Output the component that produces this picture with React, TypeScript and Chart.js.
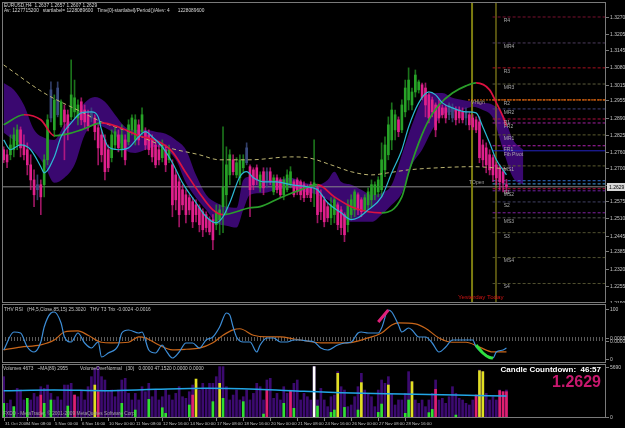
import React, { useEffect, useRef } from 'react';
import { Chart, registerables } from 'chart.js';

Chart.register(...registerables);

const FONT = '"Liberation Sans", Arial, sans-serif';
const X_MIN = -0.5;
const X_MAX = 178.5;
const MAIN_MIN = 1.21905;
const MAIN_MAX = 1.33266;

// ---- candles (EURUSD H4), bar index 0..149 ----
const openP = [
  1.2769, 1.2750, 1.2750, 1.2769, 1.2787, 1.2844, 1.2787, 1.2769, 1.2712, 1.2655,
  1.2637, 1.2637, 1.2637, 1.2731, 1.2889, 1.2844, 1.2901, 1.2863, 1.2919, 1.2901,
  1.2893, 1.2912, 1.2889, 1.2950, 1.2919, 1.2901, 1.2912, 1.2889, 1.2852, 1.2825,
  1.2806, 1.2769, 1.2739, 1.2787, 1.2825, 1.2769, 1.2806, 1.2799, 1.2844, 1.2806,
  1.2863, 1.2837, 1.2837, 1.2825, 1.2806, 1.2787, 1.2769, 1.2739, 1.2769, 1.2731,
  1.2712, 1.2674, 1.2648, 1.2618, 1.2599, 1.2588, 1.2573, 1.2561, 1.2550, 1.2535,
  1.2524, 1.2505, 1.2505, 1.2486, 1.2505, 1.2554, 1.2599, 1.2674, 1.2731, 1.2674,
  1.2663, 1.2701, 1.2720, 1.2705, 1.2693, 1.2701, 1.2625, 1.2686, 1.2686, 1.2686,
  1.2610, 1.2663, 1.2655, 1.2599, 1.2618, 1.2637, 1.2648, 1.2655, 1.2648, 1.2637,
  1.2625, 1.2637, 1.2637, 1.2625, 1.2599, 1.2580, 1.2554, 1.2512, 1.2524, 1.2561,
  1.2542, 1.2524, 1.2486, 1.2524, 1.2542, 1.2599, 1.2580, 1.2542, 1.2561, 1.2580,
  1.2599, 1.2610, 1.2618, 1.2693, 1.2750, 1.2806, 1.2844, 1.2882, 1.2844, 1.2912,
  1.2957, 1.2938, 1.2987, 1.2995, 1.3014, 1.3002, 1.2976, 1.2957, 1.2938, 1.2938,
  1.2927, 1.2927, 1.2901, 1.2889, 1.2919, 1.2919, 1.2912, 1.2889, 1.2901, 1.2889,
  1.2882, 1.2874, 1.2787, 1.2776, 1.2750, 1.2739, 1.2712, 1.2701, 1.2686, 1.2637,
];
const highP = [
  1.2780, 1.2769, 1.2825, 1.2852, 1.2863, 1.2855, 1.2825, 1.2795, 1.2750, 1.2693,
  1.2674, 1.2655, 1.2750, 1.2901, 1.3025, 1.2976, 1.3025, 1.2957, 1.2938, 1.2919,
  1.3108, 1.3032, 1.2957, 1.2965, 1.2938, 1.2919, 1.2927, 1.2901, 1.2863, 1.2844,
  1.2825, 1.2787, 1.2844, 1.2852, 1.2844, 1.2863, 1.2825, 1.2882, 1.2901, 1.2901,
  1.2882, 1.2927, 1.2852, 1.2844, 1.2825, 1.2806, 1.2787, 1.2806, 1.2787, 1.2787,
  1.2731, 1.2693, 1.2667, 1.2637, 1.2618, 1.2599, 1.2588, 1.2580, 1.2561, 1.2546,
  1.2535, 1.2516, 1.2524, 1.2561, 1.2561, 1.2855, 1.2780, 1.2769, 1.2750, 1.2739,
  1.2750, 1.2750, 1.2795, 1.2712, 1.2701, 1.2712, 1.2686, 1.2701, 1.2701, 1.2701,
  1.2674, 1.2674, 1.2663, 1.2667, 1.2693, 1.2705, 1.2655, 1.2663, 1.2655, 1.2648,
  1.2637, 1.2648, 1.2806, 1.2637, 1.2618, 1.2591, 1.2569, 1.2588, 1.2591, 1.2569,
  1.2554, 1.2531, 1.2580, 1.2599, 1.2618, 1.2606, 1.2588, 1.2599, 1.2625, 1.2655,
  1.2648, 1.2667, 1.2795, 1.2818, 1.2893, 1.2946, 1.2919, 1.2893, 1.2957, 1.3032,
  1.3078, 1.3002, 1.3070, 1.3032, 1.3021, 1.3021, 1.2983, 1.2968, 1.2946, 1.2957,
  1.2938, 1.2938, 1.2946, 1.2942, 1.2931, 1.2931, 1.2927, 1.2927, 1.2912, 1.2901,
  1.2893, 1.2893, 1.2806, 1.2795, 1.2769, 1.2750, 1.2723, 1.2712, 1.2701, 1.2657,
];
const lowP = [
  1.2720, 1.2701, 1.2731, 1.2742, 1.2769, 1.2742, 1.2731, 1.2674, 1.2618, 1.2554,
  1.2580, 1.2524, 1.2591, 1.2712, 1.2874, 1.2818, 1.2893, 1.2855, 1.2731, 1.2806,
  1.2882, 1.2889, 1.2863, 1.2863, 1.2852, 1.2840, 1.2874, 1.2806, 1.2712, 1.2723,
  1.2655, 1.2686, 1.2723, 1.2769, 1.2761, 1.2742, 1.2712, 1.2787, 1.2825, 1.2787,
  1.2787, 1.2825, 1.2769, 1.2750, 1.2723, 1.2701, 1.2712, 1.2723, 1.2686, 1.2720,
  1.2516, 1.2542, 1.2478, 1.2542, 1.2493, 1.2524, 1.2475, 1.2497, 1.2459, 1.2441,
  1.2459, 1.2448, 1.2392, 1.2467, 1.2448, 1.2456, 1.2524, 1.2637, 1.2674, 1.2663,
  1.2637, 1.2686, 1.2712, 1.2516, 1.2618, 1.2637, 1.2610, 1.2599, 1.2625, 1.2637,
  1.2599, 1.2606, 1.2588, 1.2580, 1.2610, 1.2625, 1.2591, 1.2599, 1.2580, 1.2573,
  1.2588, 1.2573, 1.2554, 1.2493, 1.2505, 1.2478, 1.2497, 1.2486, 1.2493, 1.2467,
  1.2448, 1.2422, 1.2459, 1.2505, 1.2516, 1.2524, 1.2516, 1.2531, 1.2542, 1.2554,
  1.2580, 1.2591, 1.2591, 1.2667, 1.2731, 1.2769, 1.2806, 1.2818, 1.2833, 1.2893,
  1.2919, 1.2919, 1.2968, 1.2983, 1.2957, 1.2893, 1.2870, 1.2893, 1.2818, 1.2870,
  1.2889, 1.2870, 1.2882, 1.2874, 1.2863, 1.2870, 1.2870, 1.2863, 1.2844, 1.2844,
  1.2833, 1.2720, 1.2705, 1.2682, 1.2674, 1.2648, 1.2637, 1.2618, 1.2610, 1.2607,
];
const closeP = [
  1.2731, 1.2723, 1.2787, 1.2825, 1.2844, 1.2776, 1.2750, 1.2712, 1.2655, 1.2599,
  1.2618, 1.2591, 1.2731, 1.2882, 1.2995, 1.2957, 1.3002, 1.2950, 1.2874, 1.2852,
  1.2976, 1.2965, 1.2938, 1.2882, 1.2874, 1.2859, 1.2889, 1.2837, 1.2776, 1.2750,
  1.2686, 1.2701, 1.2825, 1.2837, 1.2776, 1.2825, 1.2731, 1.2863, 1.2889, 1.2882,
  1.2806, 1.2901, 1.2787, 1.2769, 1.2742, 1.2712, 1.2731, 1.2787, 1.2712, 1.2769,
  1.2561, 1.2580, 1.2524, 1.2561, 1.2524, 1.2542, 1.2497, 1.2524, 1.2486, 1.2467,
  1.2475, 1.2459, 1.2429, 1.2535, 1.2542, 1.2629, 1.2712, 1.2750, 1.2686, 1.2720,
  1.2731, 1.2731, 1.2776, 1.2618, 1.2637, 1.2655, 1.2674, 1.2625, 1.2648, 1.2648,
  1.2663, 1.2618, 1.2599, 1.2655, 1.2674, 1.2686, 1.2599, 1.2610, 1.2599, 1.2588,
  1.2599, 1.2588, 1.2644, 1.2524, 1.2535, 1.2497, 1.2512, 1.2561, 1.2580, 1.2486,
  1.2475, 1.2448, 1.2561, 1.2580, 1.2610, 1.2542, 1.2535, 1.2588, 1.2610, 1.2637,
  1.2637, 1.2655, 1.2731, 1.2787, 1.2863, 1.2919, 1.2901, 1.2837, 1.2938, 1.3002,
  1.3032, 1.2987, 1.3051, 1.3025, 1.2965, 1.2938, 1.2889, 1.2912, 1.2844, 1.2889,
  1.2901, 1.2889, 1.2938, 1.2927, 1.2882, 1.2889, 1.2882, 1.2912, 1.2863, 1.2855,
  1.2844, 1.2739, 1.2731, 1.2712, 1.2693, 1.2674, 1.2663, 1.2648, 1.2644, 1.2629,
];
const neutralBars = [10, 14, 16, 26, 72, 78, 132, 133, 137];

// ---- moving averages / band (bar index, price) ----
const fastMaIdx = [0, 2, 5, 8, 11, 12, 15, 17, 20, 23, 26, 28, 29, 31, 34, 37, 40, 42, 44, 47, 50, 53, 57, 60, 63, 65, 67, 70, 72, 74, 77, 81, 85, 90, 93, 96, 100, 103, 105, 108, 112, 115, 118, 120, 123, 126, 128, 130, 133, 137, 140, 142, 144, 146, 148, 149];
const fastMaVal = [1.2806, 1.2769, 1.2787, 1.2769, 1.2705, 1.2682, 1.2742, 1.2818, 1.2870, 1.2908, 1.2912, 1.2893, 1.2844, 1.2780, 1.2769, 1.2776, 1.2818, 1.2837, 1.2818, 1.2780, 1.2720, 1.2644, 1.2569, 1.2516, 1.2493, 1.2516, 1.2569, 1.2667, 1.2686, 1.2663, 1.2648, 1.2648, 1.2637, 1.2629, 1.2618, 1.2569, 1.2531, 1.2505, 1.2512, 1.2542, 1.2591, 1.2682, 1.2769, 1.2855, 1.2946, 1.2987, 1.2976, 1.2946, 1.2927, 1.2912, 1.2908, 1.2855, 1.2795, 1.2731, 1.2693, 1.2674];
const trendMaIdx = [0, 6, 11, 15, 19, 23, 29, 34, 40, 46, 50, 54, 58, 62, 65, 73, 76, 82, 88, 93, 98, 103, 108, 112, 118, 120, 123, 126, 129, 133, 137, 140, 144, 146, 148, 149];
const trendMaVal = [1.2863, 1.2901, 1.2882, 1.2822, 1.2829, 1.2844, 1.2870, 1.2855, 1.2822, 1.2799, 1.2761, 1.2682, 1.2606, 1.2542, 1.2524, 1.2550, 1.2554, 1.2588, 1.2618, 1.2637, 1.2591, 1.2554, 1.2535, 1.2531, 1.2591, 1.2682, 1.2795, 1.2882, 1.2938, 1.2983, 1.3010, 1.3021, 1.2995, 1.2946, 1.2893, 1.2859];
const slowMaIdx = [0, 12, 23, 29, 38, 48, 58, 64, 73, 85, 90, 97, 103, 109, 114, 120, 129, 139, 149];
const slowMaVal = [1.3089, 1.2983, 1.2912, 1.2874, 1.2833, 1.2780, 1.2750, 1.2731, 1.2731, 1.2742, 1.2739, 1.2712, 1.2686, 1.2674, 1.2682, 1.2693, 1.2701, 1.2705, 1.2697];
const bandIdx = [0, 3, 6, 9, 12, 15, 18, 21, 24, 27, 30, 33, 36, 39, 42, 45, 48, 51, 54, 57, 60, 63, 66, 69, 71, 73, 77, 81, 85, 89, 93, 96, 98, 100, 103, 106, 109, 112, 115, 118, 121, 124, 127, 130, 133, 136, 139, 142, 145, 148, 151, 154];
const bandUpper = [1.3021, 1.2995, 1.2938, 1.2844, 1.2814, 1.2806, 1.2863, 1.2889, 1.2946, 1.2968, 1.2950, 1.2901, 1.2855, 1.2844, 1.2844, 1.2837, 1.2829, 1.2806, 1.2769, 1.2674, 1.2599, 1.2569, 1.2554, 1.2550, 1.2655, 1.2667, 1.2655, 1.2655, 1.2663, 1.2644, 1.2637, 1.2655, 1.2686, 1.2648, 1.2637, 1.2618, 1.2599, 1.2606, 1.2637, 1.2750, 1.2863, 1.2957, 1.2983, 1.2983, 1.2965, 1.2957, 1.2950, 1.2946, 1.2938, 1.2901, 1.2806, 1.2769];
const bandLower = [1.2833, 1.2806, 1.2787, 1.2761, 1.2712, 1.2644, 1.2663, 1.2712, 1.2825, 1.2863, 1.2852, 1.2825, 1.2769, 1.2757, 1.2769, 1.2780, 1.2769, 1.2731, 1.2644, 1.2588, 1.2542, 1.2493, 1.2482, 1.2475, 1.2542, 1.2599, 1.2606, 1.2618, 1.2625, 1.2610, 1.2599, 1.2580, 1.2561, 1.2524, 1.2497, 1.2497, 1.2497, 1.2524, 1.2561, 1.2606, 1.2712, 1.2769, 1.2844, 1.2901, 1.2912, 1.2919, 1.2931, 1.2919, 1.2889, 1.2769, 1.2663, 1.2637];

// ---- pivot levels ----
const pivotNames = ['R4', 'MR4', 'R3', 'MR3', 'R2', 'MR2', 'R1', 'FR2', 'MR1', 'FR1', 'Fib Pivot', 'MS1', '', '', 'S1', 'MS2', 'S2', '', 'MS3', 'S3', 'MS4', 'S4'];
const pivotPrices = [1.3270, 1.3172, 1.3078, 1.3017, 1.2957, 1.2923, 1.2885, 1.2870, 1.2825, 1.2784, 1.2765, 1.2708, 1.2652, 1.2640, 1.2622, 1.2614, 1.2572, 1.2531, 1.2512, 1.2456, 1.2362, 1.2264];
const pivotColors = ['#7a1030', '#4c3c5c', '#a81020', '#5c5c3c', '#e06010', '#40407a', '#b01040', '#a020a0', '#5c5c30', '#b020b0', '#2424c0', '#5c5c30', '#3070d0', '#40a0e0', '#b01040', '#7020a0', '#404064', '#8020a0', '#505050', '#505030', '#505030', '#505030'];
const yesterdayHigh = 1.2957;
const lastPrice = 1.2629;
const yesterdayBar = 138.8;
const todayBar = 145.9;
const priceTicks = [1.3270, 1.3205, 1.3145, 1.3080, 1.3015, 1.2955, 1.2890, 1.2825, 1.2760, 1.2700, 1.2635, 1.2575, 1.2510, 1.2445, 1.2385, 1.2320, 1.2255, 1.2190];

// ---- THV RSI / T3 Trix ----
const rsiIdx = [0, 3, 5, 7, 9, 11, 12, 14, 15, 17, 18, 20, 22, 24, 26, 28, 29, 31, 34, 35, 37, 40, 41, 43, 45, 47, 48, 50, 52, 54, 56, 58, 60, 62, 64, 66, 67, 68, 69, 71, 73, 75, 76, 78, 80, 82, 84, 86, 88, 90, 92, 94, 96, 99, 101, 103, 105, 106, 108, 111, 112, 114, 115, 117, 118, 120, 121, 123, 125, 127, 129, 131, 133, 135, 137, 139, 140, 142, 145, 146, 148, 149];
const rsiVal = [18, 54, 52, 24, 14, 34, 64, 92, 94, 72, 44, 34, 52, 32, 22, 34, 4, 12, 28, 52, 58, 52, 54, 18, 12, 28, 18, 2, 14, 32, 32, 22, 38, 44, 64, 92, 88, 64, 44, 34, 34, 14, 28, 42, 42, 34, 34, 38, 38, 36, 34, 22, 18, 28, 32, 34, 52, 54, 52, 52, 62, 98, 94, 68, 54, 62, 58, 44, 44, 32, 14, 24, 38, 38, 38, 38, 24, 12, 2, 14, 18, 22];
const rsiHighIdx = [111, 113, 114];
const rsiHighVal = [74, 90, 98];
const rsiLowIdx = [140, 142, 144, 145];
const rsiLowVal = [28, 12, 3, 2];
const rsiLevels = [42, 38];
const trixIdx = [0, 5, 11, 15, 18, 22, 25, 29, 32, 37, 40, 42, 46, 50, 54, 58, 62, 65, 68, 70, 74, 78, 82, 86, 90, 94, 102, 108, 112, 115, 117, 122, 125, 129, 133, 137, 141, 145, 149];
const trixVal = [-0.0020, -0.0015, -0.0011, -0.0002, 0.0013, 0.0015, 0.0007, -0.0006, -0.0007, -0.0006, 0.0004, 0.0002, -0.0011, -0.0020, -0.0019, -0.0017, -0.0007, 0.0007, 0.0017, 0.0019, 0.0007, 0.0004, 0.0004, 0.0000, -0.0004, -0.0007, -0.0007, 0.0002, 0.0011, 0.0026, 0.0030, 0.0028, 0.0020, 0.0002, -0.0006, -0.0006, -0.0015, -0.0024, -0.0024];

// ---- volumes ----
const volumes = [
  4550, 1520, 1900, 1140, 3220, 3030, 1900, 1520, 1900, 2650,
  2270, 3410, 3220, 3600, 2650, 1900, 2270, 1900, 3600, 3600,
  3790, 2460, 2270, 3030, 1900, 3410, 4550, 5500, 5690, 4550,
  4170, 2840, 3030, 2270, 3030, 4170, 4360, 2650, 1900, 2650,
  1900, 3410, 2840, 3790, 2270, 3030, 1900, 2270, 3030, 2460,
  1900, 2650, 3410, 2270, 2090, 2840, 3600, 3790, 3030, 3790,
  3220, 3790, 3790, 4550, 5690, 5690, 3410, 1900, 2460, 3030,
  1900, 2270, 3030, 1900, 2650, 3790, 3410, 1900, 4170, 4360,
  2090, 2650, 1900, 3410, 2650, 3030, 3790, 4170, 1900, 2650,
  2270, 1900, 5690, 1900, 3220, 1900, 1140, 2270, 2460, 5120,
  3410, 3030, 1140, 1330, 2270, 3410, 4930, 3030, 2650, 2270,
  1140, 3030, 4170, 3790, 4550, 2650, 1330, 1900, 1900, 2650,
  5120, 3980, 1900, 1520, 1900, 1140, 1900, 2650, 4170, 1900,
  2090, 1520, 2270, 3410, 2650, 2090, 1900, 1520, 1330, 1900,
  2460, 5310, 5120, 2650, 1900, 2270, 1900, 3030, 2840, 3030,
];
const greenVolIdx = [0, 3, 7, 12, 14, 19, 35, 39, 43, 47, 48, 55, 62, 65, 71, 77, 83, 86, 93, 97, 98, 101, 105, 111, 112, 119, 120, 126, 127, 134];
const greenVolVal = [1520, 1140, 2090, 1520, 1900, 1210, 1520, 760, 1970, 1020, 380, 1330, 1710, 2090, 1710, 300, 1520, 950, 1210, 490, 760, 1060, 760, 490, 1440, 380, 1900, 460, 830, 190];
const pinkVolIdx = [11, 21, 28, 56, 78, 85, 128, 140, 147, 148, 149];
const pinkVolVal = [2460, 2460, 2840, 2460, 3030, 2960, 3110, 2460, 2960, 2840, 2840];
const yellowVolIdx = [27, 57, 64, 99, 106, 114, 121, 141, 142];
const yellowVolVal = [3600, 4280, 3790, 4930, 3870, 3600, 3980, 5230, 5120];
const whiteVolIdx = [92];
const whiteVolVal = [5690];
const volMaIdx = [0, 15, 30, 45, 60, 75, 89, 100, 118, 134, 149];
const volMaVal = [2960, 3030, 2960, 3110, 3220, 3110, 2880, 2730, 2580, 2460, 2350];

// ---- time axis ----
const timeTickBars = [0, 7, 15, 23, 31, 39, 47, 55, 63, 71, 79, 87, 95, 103, 111, 119];
const timeLabels = ['31 Oct 2008', '4 Nov 08:00', '5 Nov 00:00', '6 Nov 16:00', '10 Nov 00:00', '11 Nov 08:00', '12 Nov 16:00', '14 Nov 00:00', '17 Nov 08:00', '18 Nov 16:00', '20 Nov 00:00', '21 Nov 08:00', '24 Nov 16:00', '26 Nov 00:00', '27 Nov 08:00', '28 Nov 16:00'];

const FRAME = '#7a7a7a';
const TEXT = '#c4c4c4';

const pts = (idx: number[], val: number[]) => idx.map((x, k) => ({ x, y: val[k] }));
const hLine = (y: number, x0 = X_MIN, x1 = X_MAX) => [{ x: x0, y }, { x: x1, y }];
const lineDs = (data: any[], color: string, width: number, extra: any = {}) => ({
  type: 'line', data, borderColor: color, borderWidth: width, pointRadius: 0, fill: false, ...extra,
});

function drawFrame(ctx: CanvasRenderingContext2D, a: any) {
  ctx.strokeStyle = FRAME;
  ctx.lineWidth = 1;
  ctx.strokeRect(a.left + 0.5, a.top + 0.5, a.right - a.left - 1, a.bottom - a.top - 1);
}

function text(ctx: CanvasRenderingContext2D, s: string, x: number, y: number, size: number, color: string, align: CanvasTextAlign = 'left', bold = false) {
  ctx.font = `${bold ? 'bold ' : ''}${size}px ${FONT}`;
  ctx.fillStyle = color;
  ctx.textAlign = align;
  ctx.textBaseline = 'middle';
  ctx.fillText(s, x, y);
}

function axisLabel(ctx: CanvasRenderingContext2D, a: any, py: number, s: string) {
  const y = Math.round(py) + 0.5;
  ctx.strokeStyle = FRAME;
  ctx.beginPath();
  ctx.moveTo(a.right, y);
  ctx.lineTo(a.right + 3, y);
  ctx.stroke();
  text(ctx, s, a.right + 4, y, 5, TEXT);
}

const baseOptions = (padding: any, yScales: any) => ({
  responsive: false,
  animation: false,
  devicePixelRatio: 1,
  events: [],
  layout: { padding },
  scales: {
    x: { type: 'linear', min: X_MIN, max: X_MAX, display: false, offset: false },
    ...yScales,
  },
  plugins: { legend: { display: false }, tooltip: { enabled: false } },
});

export default function App() {
  const mainRef = useRef<HTMLCanvasElement>(null);
  const rsiRef = useRef<HTMLCanvasElement>(null);
  const volRef = useRef<HTMLCanvasElement>(null);

  useEffect(() => {
    const charts: Chart[] = [];
    const barIdx = closeP.map((_, i) => i);
    const kind = barIdx.map((i) => (neutralBars.includes(i) ? 0 : closeP[i] >= openP[i] ? 1 : 2));
    const bodyCol = kind.map((k) => (k === 0 ? '#3c4c80' : k === 1 ? '#27a327' : '#e0208c'));
    const wickCol = kind.map((k) => (k === 0 ? 'rgba(60,76,128,0.8)' : k === 1 ? 'rgba(39,163,39,0.7)' : 'rgba(224,32,140,0.7)'));

    // ---------- main price panel ----------
    const mainDatasets: any[] = [
      lineDs(pts(bandIdx, bandUpper), 'rgba(0,0,0,0)', 0, { fill: '+1', backgroundColor: '#3a0870', order: 20, cubicInterpolationMode: 'monotone' }),
      lineDs(pts(bandIdx, bandLower), 'rgba(0,0,0,0)', 0, { order: 20, cubicInterpolationMode: 'monotone' }),
      lineDs(hLine(lastPrice), '#8a8a8a', 1, { order: 15 }),
      lineDs([{ x: yesterdayBar, y: MAIN_MIN }, { x: yesterdayBar, y: MAIN_MAX }], '#7c7c10', 2, { order: 14 }),
      lineDs([{ x: todayBar, y: MAIN_MIN }, { x: todayBar, y: MAIN_MAX }], '#a8a020', 1, { order: 14 }),
      lineDs(hLine(yesterdayHigh, yesterdayBar - 1.2), '#e06a10', 1, { borderDash: [2, 1], order: 13 }),
      ...pivotPrices.map((p, k) =>
        lineDs(hLine(p, todayBar - 1), pivotColors[k], 1, { borderDash: pivotNames[k] === 'Fib Pivot' ? [] : [3, 2], order: 13 })),
      {
        type: 'bar', data: barIdx.map((i) => ({ x: i, y: [lowP[i], highP[i]] })),
        backgroundColor: wickCol, barThickness: 1, grouped: false, order: 8,
      },
      {
        type: 'bar', data: barIdx.map((i) => ({ x: i, y: [openP[i], closeP[i]] })),
        backgroundColor: bodyCol, barThickness: 2, minBarLength: 1, grouped: false, order: 7,
      },
      lineDs(pts(slowMaIdx, slowMaVal), '#bdb572', 1, { borderDash: [4, 3], order: 4, cubicInterpolationMode: 'monotone' }),
      lineDs(pts(trendMaIdx, trendMaVal), '#2aa02a', 1.7, {
        order: 3, cubicInterpolationMode: 'monotone',
        segment: { borderColor: (c: any) => (c.p1.parsed.y >= c.p0.parsed.y ? '#2a9e2a' : '#dc1240') },
      }),
      lineDs(pts(fastMaIdx, fastMaVal), '#2cb8d4', 1.2, { order: 2, cubicInterpolationMode: 'monotone' }),
    ];

    const mainDecor = {
      id: 'mainDecor',
      afterDatasetsDraw(chart: any) {
        const { ctx, chartArea: a, scales } = chart;
        const x = scales.x; const y = scales.y;
        ctx.save();
        drawFrame(ctx, a);
        priceTicks.forEach((v) => {
          const py = y.getPixelForValue(v);
          if (py >= a.top && py <= a.bottom + 1) axisLabel(ctx, a, py, v.toFixed(4));
        });
        const cy = Math.round(y.getPixelForValue(lastPrice));
        ctx.fillStyle = '#d8d8d8';
        ctx.fillRect(a.right + 1, cy - 4, 18, 8);
        text(ctx, lastPrice.toFixed(4), a.right + 3, cy + 0.5, 5, '#000000');
        const lx = x.getPixelForValue(148.2);
        pivotNames.forEach((n, k) => {
          if (!n) return;
          text(ctx, n, lx, y.getPixelForValue(pivotPrices[k]) + 3.5, 5, '#a8a8a8');
        });
        const xy = x.getPixelForValue(yesterdayBar);
        text(ctx, 'VHigh', xy - 1, y.getPixelForValue(yesterdayHigh) + 3, 5, '#b0a090');
        text(ctx, 'TOpen', xy - 3, y.getPixelForValue(1.2645), 5, '#9a9a9a');
        text(ctx, 'Yesterday Today', xy - 14, a.bottom - 6, 6.2, '#d01414');
        text(ctx, 'EURUSD,H4  1.2637 1.2657 1.2607 1.2629', 4, 5.5, 4.8, '#d8d8d8');
        text(ctx, 'Av: 1227715200   startlabel= 1228089600   Time[0]-startlabel]/Period()/Alev: 4      1228089600', 4, 11, 4.8, '#d8d8d8');
        ctx.restore();
      },
    };

    charts.push(new Chart(mainRef.current as HTMLCanvasElement, {
      type: 'line',
      data: { datasets: mainDatasets },
      options: baseOptions({ left: 2, top: 2, right: 19, bottom: 0 }, {
        y: { type: 'linear', min: MAIN_MIN, max: MAIN_MAX, display: false },
      }) as any,
      plugins: [mainDecor],
    } as any));

    // ---------- RSI panel ----------
    const rsiDecor = {
      id: 'rsiDecor',
      afterDatasetsDraw(chart: any) {
        const { ctx, chartArea: a, scales } = chart;
        const y = scales.y;
        ctx.save();
        drawFrame(ctx, a);
        axisLabel(ctx, a, y.getPixelForValue(100), '100');
        axisLabel(ctx, a, y.getPixelForValue(42), '0.0003');
        axisLabel(ctx, a, y.getPixelForValue(37), '0.0000');
        axisLabel(ctx, a, y.getPixelForValue(0), '0');
        text(ctx, 'THV RSI   (H4,5,Close,85,15) 25.3020   THV T3 Trix -0.0024 -0.0016', 4, a.top + 6, 4.8, TEXT);
        ctx.restore();
      },
    };
    charts.push(new Chart(rsiRef.current as HTMLCanvasElement, {
      type: 'line',
      data: {
        datasets: [
          ...rsiLevels.map((v) => lineDs(hLine(v), '#b4b4b4', 1, { borderDash: [1, 2], order: 10 })),
          lineDs(pts(trixIdx, trixVal), '#c8661a', 1.2, { yAxisID: 'yt', order: 5, cubicInterpolationMode: 'monotone' }),
          lineDs(pts(rsiIdx, rsiVal), '#3d8ed8', 1.2, { order: 4, cubicInterpolationMode: 'monotone' }),
          lineDs(pts(rsiHighIdx, rsiHighVal), '#e0207a', 3, { order: 2, cubicInterpolationMode: 'monotone' }),
          lineDs(pts(rsiLowIdx, rsiLowVal), '#30e040', 3, { order: 2, cubicInterpolationMode: 'monotone' }),
        ],
      },
      options: baseOptions({ left: 2, top: 1, right: 19, bottom: 0 }, {
        y: { type: 'linear', min: -8, max: 110, display: false },
        yt: { type: 'linear', min: -0.00444, max: 0.006475, display: false },
      }) as any,
      plugins: [rsiDecor],
    } as any));

    // ---------- volume panel ----------
    const volDecor = {
      id: 'volDecor',
      afterDatasetsDraw(chart: any) {
        const { ctx, chartArea: a, scales } = chart;
        const x = scales.x; const y = scales.y;
        ctx.save();
        drawFrame(ctx, a);
        const vmax = Math.max(...volumes);
        axisLabel(ctx, a, y.getPixelForValue(vmax), String(vmax));
        axisLabel(ctx, a, y.getPixelForValue(0), '0');
        text(ctx, 'Volumes 4673   ~MA(89) 2955', 3, a.top + 5, 4.8, TEXT);
        text(ctx, 'VolumeOverNormal   (30)   0.0000 47.1520 0.0000 0.0000', 80, a.top + 5, 4.8, TEXT);
        text(ctx, 'FXDD - MetaTrader, \u00a9 2001-2009 MetaQuotes Software Corp.', 3, a.bottom - 4, 4.8, '#a0a0a0');
        text(ctx, 'Candle Countdown:  46:57', 601, a.top + 5.5, 8, '#ffffff', 'right', true);
        text(ctx, lastPrice.toFixed(4), 601, a.top + 19, 16, '#c8186e', 'right', true);
        ctx.strokeStyle = FRAME;
        timeTickBars.forEach((b, k) => {
          const px = Math.round(x.getPixelForValue(b)) + 0.5;
          ctx.beginPath();
          ctx.moveTo(px, a.bottom);
          ctx.lineTo(px, a.bottom + 3);
          ctx.stroke();
          text(ctx, timeLabels[k], px + 0.5, a.bottom + 5.5, 4.3, TEXT);
        });
        ctx.restore();
      },
    };
    const volBars = (idx: number[], val: number[], color: string, order: number) => ({
      type: 'bar', data: pts(idx, val), backgroundColor: color, barThickness: 2, grouped: false, order,
    });
    charts.push(new Chart(volRef.current as HTMLCanvasElement, {
      type: 'line',
      data: {
        datasets: [
          volBars(volumes.map((_, i) => i), volumes, '#3c0a70', 10),
          volBars(greenVolIdx, greenVolVal, '#30e030', 6),
          volBars(pinkVolIdx, pinkVolVal, '#e0206e', 6),
          volBars(yellowVolIdx, yellowVolVal, '#e0e020', 6),
          volBars(whiteVolIdx, whiteVolVal, '#ffffff', 6),
          lineDs(pts(volMaIdx, volMaVal), '#22a6e6', 1.5, { order: 2, cubicInterpolationMode: 'monotone' }),
        ],
      },
      options: baseOptions({ left: 2, top: 1, right: 19, bottom: 10 }, {
        y: { type: 'linear', min: -148, max: 5990, display: false },
      }) as any,
      plugins: [volDecor],
    } as any));

    return () => charts.forEach((c) => c.destroy());
  }, []);

  return (
    <div style={{ position: 'fixed', left: 0, top: 0, width: 625, height: 428, background: '#000', overflow: 'hidden' }}>
      <canvas ref={mainRef} width={625} height={303} style={{ position: 'absolute', left: 0, top: 0, width: 625, height: 303 }} />
      <canvas ref={rsiRef} width={625} height={60} style={{ position: 'absolute', left: 0, top: 303, width: 625, height: 60 }} />
      <canvas ref={volRef} width={625} height={65} style={{ position: 'absolute', left: 0, top: 363, width: 625, height: 65 }} />
    </div>
  );
}
